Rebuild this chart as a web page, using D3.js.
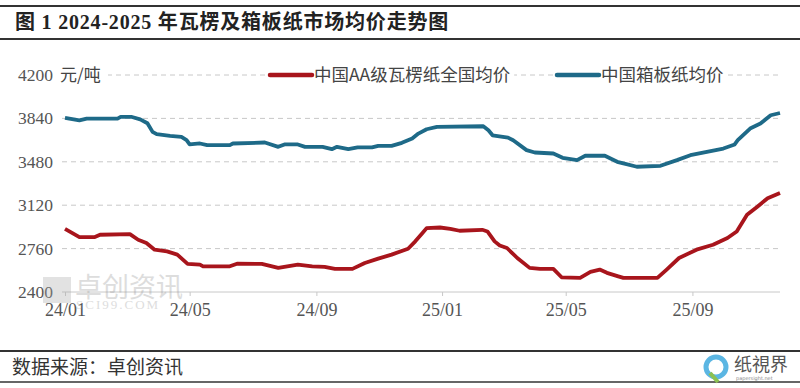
<!DOCTYPE html>
<html>
<head>
<meta charset="utf-8">
<script src="https://cdn.jsdelivr.net/npm/d3@7"></script>
<style>
  body { margin: 0; background: #fff; }
  svg { display: block; }
</style>
</head>
<body>
<div id="chart"></div>
<script>
// DATA
// ------------------------------------------------------------------

var yTicks = [2400, 2760, 3120, 3480, 3840, 4200];
var xTicks = ["2024-01-01", "2024-05-01", "2024-09-01", "2025-01-01", "2025-05-01", "2025-09-01"];

var seriesNames = ["中国AA级瓦楞纸全国均价", "中国箱板纸均价"];

// 中国AA级瓦楞纸全国均价
var redDates = [
  "2024-01-01", "2024-01-15", "2024-01-30", "2024-02-04", "2024-03-04", "2024-03-12",
  "2024-03-20", "2024-03-28", "2024-04-09", "2024-04-19", "2024-04-29", "2024-05-11",
  "2024-05-14", "2024-06-09", "2024-06-16", "2024-07-10", "2024-07-26", "2024-08-14",
  "2024-08-28", "2024-09-09", "2024-09-19", "2024-10-06", "2024-10-18", "2024-10-31",
  "2024-11-13", "2024-11-29", "2024-12-06", "2024-12-13", "2024-12-17", "2024-12-30",
  "2025-01-09", "2025-01-18", "2025-02-09", "2025-02-14", "2025-02-21", "2025-02-26",
  "2025-03-05", "2025-03-15", "2025-03-27", "2025-04-06", "2025-04-19", "2025-04-27",
  "2025-05-15", "2025-05-25", "2025-06-03", "2025-06-10", "2025-06-21", "2025-06-26",
  "2025-07-29", "2025-08-07", "2025-08-19", "2025-09-05", "2025-09-21", "2025-10-05",
  "2025-10-14", "2025-10-24", "2025-11-03", "2025-11-13", "2025-11-25"
];
var redValues = [
  2924, 2856, 2856, 2875, 2880, 2833,
  2806, 2751, 2737, 2710, 2633, 2627,
  2613, 2613, 2635, 2633, 2600, 2627,
  2613, 2608, 2592, 2592, 2641, 2677,
  2710, 2759, 2820, 2889, 2930, 2935,
  2924, 2908, 2916, 2902, 2820, 2786,
  2765, 2682, 2600, 2592, 2592, 2522,
  2517, 2567, 2586, 2559, 2530, 2517,
  2517, 2586, 2682, 2751, 2792, 2848,
  2902, 3040, 3108, 3178, 3222
];

// 中国箱板纸均价
var blueDates = [
  "2024-01-01", "2024-01-15", "2024-01-22", "2024-02-21", "2024-02-24", "2024-03-06",
  "2024-03-14", "2024-03-21", "2024-03-26", "2024-03-30", "2024-04-12", "2024-04-23",
  "2024-04-28", "2024-05-01", "2024-05-11", "2024-05-18", "2024-06-09", "2024-06-12",
  "2024-07-13", "2024-07-26", "2024-08-01", "2024-08-14", "2024-08-21", "2024-09-07",
  "2024-09-16", "2024-09-21", "2024-10-02", "2024-10-11", "2024-10-25", "2024-10-31",
  "2024-11-13", "2024-11-23", "2024-12-03", "2024-12-09", "2024-12-17", "2024-12-27",
  "2025-02-10", "2025-02-15", "2025-02-19", "2025-03-06", "2025-03-11", "2025-03-24",
  "2025-04-01", "2025-04-19", "2025-04-28", "2025-05-12", "2025-05-20", "2025-06-08",
  "2025-06-20", "2025-06-26", "2025-07-09", "2025-08-01", "2025-08-17", "2025-08-30",
  "2025-09-15", "2025-10-01", "2025-10-12", "2025-10-15", "2025-10-27", "2025-11-06",
  "2025-11-16", "2025-11-25"
];
var blueValues = [
  3845, 3824, 3838, 3838, 3852, 3852,
  3832, 3800, 3728, 3709, 3695, 3687,
  3660, 3624, 3632, 3618, 3618, 3632,
  3640, 3604, 3624, 3624, 3604, 3604,
  3585, 3604, 3585, 3599, 3599, 3612,
  3612, 3637, 3673, 3714, 3750, 3769,
  3775, 3742, 3700, 3681, 3659, 3577,
  3557, 3549, 3513, 3494, 3530, 3530,
  3480, 3467, 3439, 3447, 3494, 3535,
  3563, 3590, 3624, 3659, 3756, 3797,
  3866, 3885
];

// CANVAS
// ------------------------------------------------------------------

var width = 800,
    height = 388;

var svg = d3.select("#chart")
    .append("svg")
    .attr("width", width)
    .attr("height", height);

var cjk = "'Noto Sans CJK SC', 'Noto Sans', sans-serif",
    serif = "'Liberation Serif', 'DejaVu Serif', 'Noto Sans CJK SC', serif";

// Title block
svg.append("line")
    .attr("x1", 0).attr("x2", width)
    .attr("y1", 6).attr("y2", 6)
    .attr("stroke", "#333").attr("stroke-width", 2);
svg.append("line")
    .attr("x1", 0).attr("x2", width)
    .attr("y1", 39).attr("y2", 39)
    .attr("stroke", "#333").attr("stroke-width", 2);
svg.append("text")
    .attr("x", 15)
    .attr("y", 29)
    .style("font-family", serif)
    .style("font-weight", "bold")
    .style("font-size", "20px")
    .style("letter-spacing", "0.8px")
    .attr("fill", "#222")
    .text("图 1 2024-2025 年瓦楞及箱板纸市场均价走势图");

// SCALES
// ------------------------------------------------------------------

var parse = d3.timeParse("%Y-%m-%d");

var plotLeft = 65,
    plotRight = 780,
    plotTop = 75,
    plotBottom = 292;

var xScale = d3.scaleTime()
    .domain([parse("2024-01-01"), parse("2025-11-25")])
    .range([plotLeft, plotRight]);

var yScale = d3.scaleLinear()
    .domain([2400, 4200])
    .range([plotBottom, plotTop]);

// GRID + AXES
// ------------------------------------------------------------------

svg.append("g")
    .selectAll("line")
    .data(yTicks.slice(1))
    .join("line")
    .attr("x1", plotLeft - 3)
    .attr("x2", plotRight)
    .attr("y1", function(d) { return yScale(d); })
    .attr("y2", function(d) { return yScale(d); })
    .attr("stroke", "#c8c8c8")
    .attr("stroke-dasharray", "5,4");

svg.append("g")
    .selectAll("text")
    .data(yTicks)
    .join("text")
    .attr("x", 53)
    .attr("y", function(d) { return yScale(d) + 6; })
    .attr("text-anchor", "end")
    .style("font-family", serif)
    .style("font-size", "17.5px")
    .attr("fill", "#555")
    .text(function(d) { return d; });

var xAxis = d3.axisBottom(xScale)
    .tickValues(xTicks.map(parse))
    .tickFormat(d3.timeFormat("%y/%m"))
    .tickSize(4)
    .tickSizeOuter(0);

var gx = svg.append("g")
    .attr("transform", "translate(0," + plotBottom + ")")
    .call(xAxis);
gx.select(".domain")
    .attr("stroke", "#c8c8c8")
    .attr("d", "M" + (plotLeft - 3) + ",0H" + plotRight);
gx.selectAll(".tick line").attr("stroke", "#c8c8c8");
gx.selectAll(".tick text")
    .attr("y", 8)
    .attr("dy", "0.9em")
    .style("font-family", serif)
    .style("font-size", "18px")
    .attr("fill", "#555");

// WATERMARK
// ------------------------------------------------------------------

var wm = svg.append("g").attr("opacity", 0.33);
wm.append("rect")
    .attr("x", 43).attr("y", 277)
    .attr("width", 28).attr("height", 26)
    .attr("fill", "#aaa");
wm.append("text")
    .attr("x", 75).attr("y", 297)
    .style("font-family", cjk)
    .style("font-size", "27px")
    .attr("fill", "#999")
    .text("卓创资讯");
wm.append("text")
    .attr("x", 76).attr("y", 309)
    .style("font-family", serif)
    .style("font-size", "13px")
    .style("letter-spacing", "2px")
    .attr("fill", "#999")
    .text("SCI99.COM");

// LINES
// ------------------------------------------------------------------

var line = d3.line()
    .x(function(d) { return xScale(d[0]); })
    .y(function(d) { return yScale(d[1]); })
    .curve(d3.curveLinear);

var redData = redDates.map(function(d, i) { return [parse(d), redValues[i]]; });
var blueData = blueDates.map(function(d, i) { return [parse(d), blueValues[i]]; });

var colors = ["#a8151c", "#1e6a88"];

svg.append("path")
    .attr("d", line(redData))
    .attr("fill", "none")
    .attr("stroke", colors[0])
    .attr("stroke-width", 3.8)
    .attr("stroke-linejoin", "round");

svg.append("path")
    .attr("d", line(blueData))
    .attr("fill", "none")
    .attr("stroke", colors[1])
    .attr("stroke-width", 3.8)
    .attr("stroke-linejoin", "round");

// UNIT + LEGEND
// ------------------------------------------------------------------

svg.append("rect")
    .attr("x", 56).attr("y", 64)
    .attr("width", 52).attr("height", 22)
    .attr("fill", "#fff");
svg.append("text")
    .attr("x", 60)
    .attr("y", 81)
    .style("font-family", cjk)
    .style("font-size", "17px")
    .attr("fill", "#444")
    .text("元/吨");

var legendX = [270, 557];
seriesNames.forEach(function(name, i) {
  var g = svg.append("g").attr("transform", "translate(" + legendX[i] + ",75)");
  var t = g.append("text")
      .attr("x", 44)
      .attr("y", 6)
      .style("font-family", cjk)
      .style("font-size", "17.5px")
      .attr("fill", "#444")
      .text(name);
  var w = t.node().getComputedTextLength();
  g.insert("rect", "text")
      .attr("x", -2).attr("y", -11)
      .attr("width", w + 50).attr("height", 22)
      .attr("fill", "#fff");
  g.append("line")
      .attr("x1", 0).attr("x2", 42)
      .attr("y1", 0).attr("y2", 0)
      .attr("stroke", colors[i])
      .attr("stroke-width", 4.5)
      .attr("stroke-linecap", "round");
});

// FOOTER
// ------------------------------------------------------------------

svg.append("line")
    .attr("x1", 0).attr("x2", width)
    .attr("y1", 351).attr("y2", 351)
    .attr("stroke", "#333").attr("stroke-width", 2);
svg.append("line")
    .attr("x1", 0).attr("x2", width)
    .attr("y1", 382).attr("y2", 382)
    .attr("stroke", "#333").attr("stroke-width", 1.5);
svg.append("text")
    .attr("x", 12)
    .attr("y", 374)
    .style("font-family", cjk)
    .style("font-size", "19px")
    .attr("fill", "#333")
    .text("数据来源：卓创资讯");

// Logo
var logo = svg.append("g").attr("transform", "translate(716,367)");
logo.append("circle")
    .attr("r", 10)
    .attr("fill", "none")
    .attr("stroke", "#5bb6e3")
    .attr("stroke-width", 5);
logo.append("path")
    .attr("d", "M-6,6 L2,15")
    .attr("stroke", "#8cc152")
    .attr("stroke-width", 4);
logo.append("text")
    .attr("x", 18)
    .attr("y", 4)
    .style("font-family", cjk)
    .style("font-size", "18px")
    .attr("fill", "#555")
    .text("纸視界");
logo.append("text")
    .attr("x", 20)
    .attr("y", 13)
    .style("font-family", "'DejaVu Sans', sans-serif")
    .style("font-size", "5px")
    .attr("fill", "#888")
    .text("papersight.net");
</script>
</body>
</html>
